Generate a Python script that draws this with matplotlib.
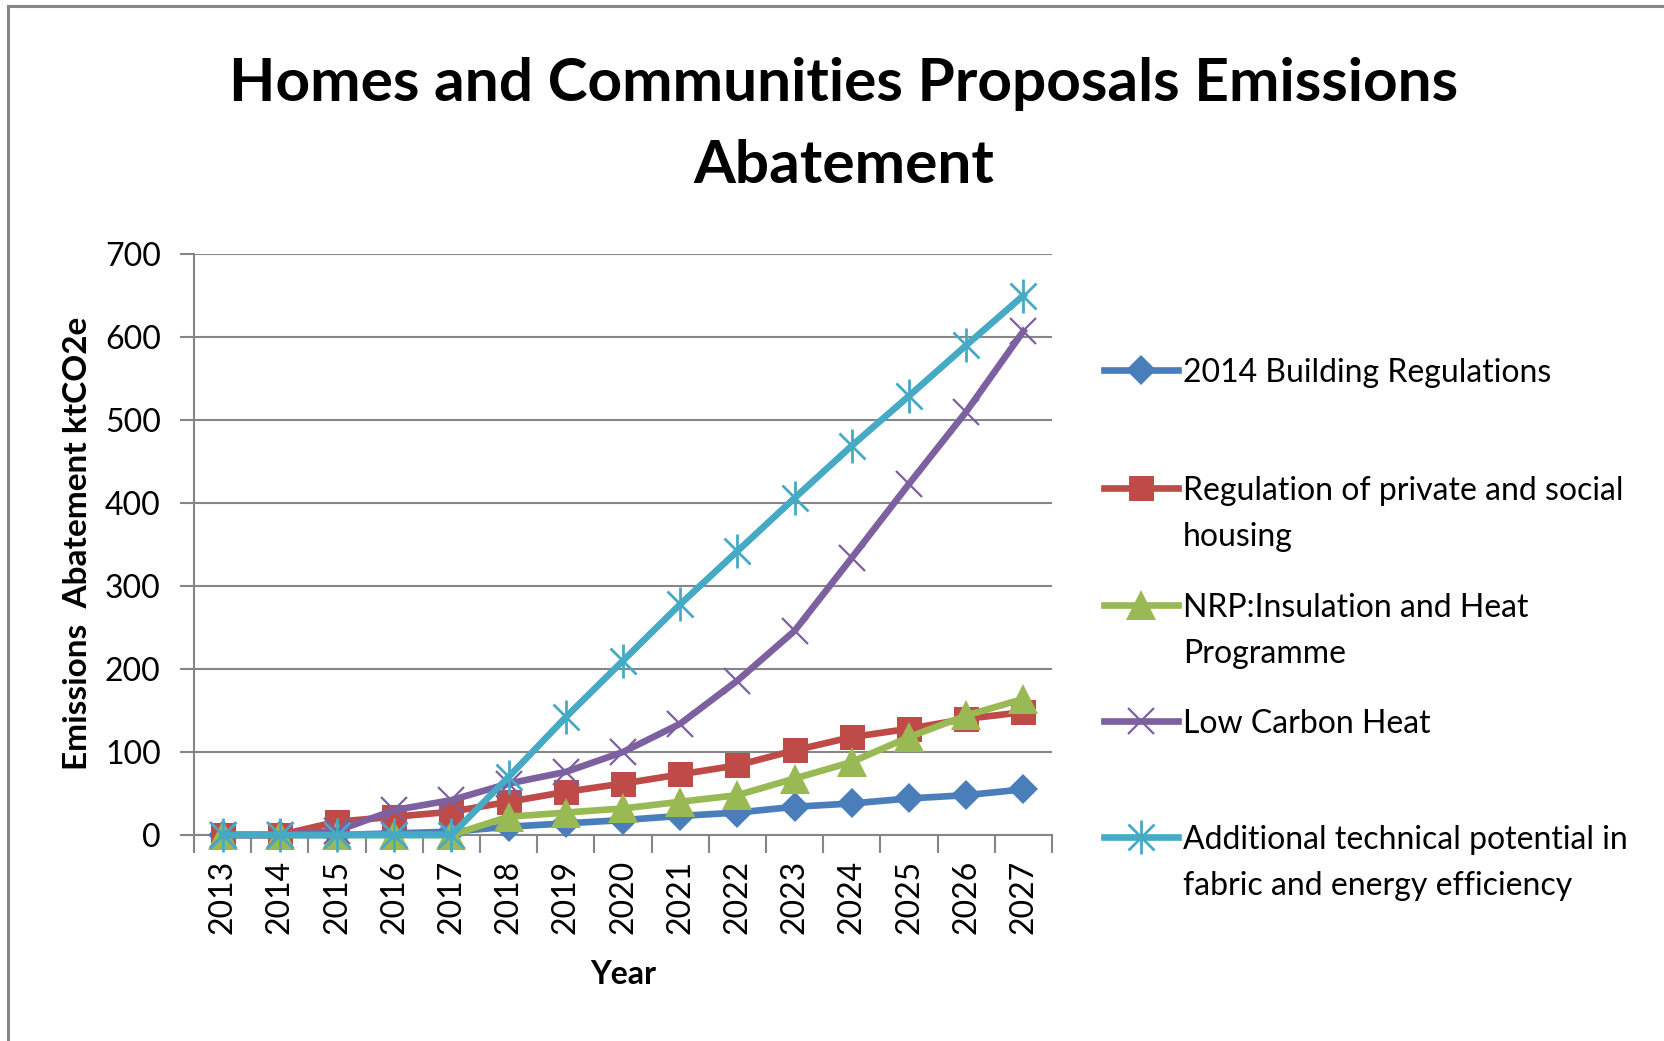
import matplotlib
matplotlib.use("Agg")
import matplotlib.pyplot as plt
from matplotlib.lines import Line2D
import numpy as np

plt.rcParams['font.family'] = ['Lato', 'DejaVu Sans']

years = ["2013", "2014", "2015", "2016", "2017", "2018", "2019", "2020",
         "2021", "2022", "2023", "2024", "2025", "2026", "2027"]

building_regs = [0, 0, 0, 2, 4, 10, 14, 18, 23, 27, 34, 38, 44, 48, 55]
private_social = [0, 0, 16, 22, 28, 40, 52, 62, 73, 84, 102, 118, 128, 140, 148]
nrp_insulation = [0, 0, 0, 0, 0, 22, 27, 32, 40, 48, 68, 88, 118, 144, 164]
low_carbon_heat = [0, 0, 5, 30, 42, 62, 76, 100, 134, 186, 246, 334, 423, 510, 607]
additional_tech = [0, 0, 0, 0, 0, 70, 142, 210, 278, 342, 406, 469, 529, 590, 650]

labels = ["2014 Building Regulations",
          "Regulation of private and social\nhousing",
          "NRP:Insulation and Heat\nProgramme",
          "Low Carbon Heat",
          "Additional technical potential in\nfabric and energy efficiency"]

colors = ["#4A7EBB", "#BE4B48", "#98B954", "#7D60A0", "#46AAC5"]
grid_col = "#868686"

W, H = 1664, 1041
fig = plt.figure(figsize=(W / 100, H / 100), dpi=100)
ax = fig.add_axes([194 / W, 1 - 835 / H, (1052 - 194) / W, (835 - 254) / H])

x = np.arange(len(years))
series = [building_regs, private_social, nrp_insulation, low_carbon_heat, additional_tech]

styles = [
    dict(marker="D", ms=15, mew=0),
    dict(marker="s", ms=18, mew=0),
    dict(marker="^", ms=21, mew=0),
    dict(marker="x", ms=19, mew=1.6),
    dict(marker="x", ms=19, mew=2),
]

for i, (vals, st) in enumerate(zip(series, styles)):
    ax.plot(x, vals, color=colors[i], lw=4.8, zorder=3 + i, clip_on=False, **st)
# star marker for the last series = x plus vertical bar
ax.plot(x, additional_tech, ls="none", marker="|", ms=24, mew=2, color=colors[4],
        zorder=8, clip_on=False)

ax.set_xlim(-0.5, len(years) - 0.5)
ax.set_ylim(0, 700)
ax.set_yticks(np.arange(0, 701, 100))
ax.yaxis.grid(True, color=grid_col, lw=1.5)
ax.set_axisbelow(True)

ax.set_xticks(x)
ax.set_xticklabels(years, rotation=90, fontsize=23)
ax.set_xticks(np.arange(-0.5, len(years)), minor=True)
ax.tick_params(axis="x", which="major", length=0, pad=18)
ax.tick_params(axis="x", which="minor", length=13, width=1.5, color=grid_col, direction="out")
ax.tick_params(axis="y", length=10, width=1.5, color=grid_col, labelsize=23, pad=14)

for s in ["top", "right"]:
    ax.spines[s].set_visible(False)
for s in ["left", "bottom"]:
    ax.spines[s].set_color(grid_col)
    ax.spines[s].set_linewidth(1.5)

fig.text(623 / W, 1 - 974 / H, "Year", fontsize=23, fontweight="bold", ha="center", va="center")
fig.text(78 / W, 1 - 543 / H, "Emissions  Abatement ktCO2e", fontsize=24, fontweight="bold",
         rotation=90, ha="center", va="center")

fig.text(844 / W, 1 - 125 / H, "Homes and Communities Proposals Emissions\nAbatement",
         fontsize=43.5, fontweight="bold", ha="center", va="center", linespacing=1.65)

# legend drawn by hand (Excel-like spacing)
leg_y = [370, 488, 605, 721, 837]
for i, lab in enumerate(labels):
    y = 1 - leg_y[i] / H
    st = dict(styles[i])
    h = Line2D([1104 / W, 1141 / W, 1178 / W], [y, y, y], transform=fig.transFigure,
               color=colors[i], lw=4.8, markevery=[1], **st)
    fig.add_artist(h)
    if i == 4:
        fig.add_artist(Line2D([1141 / W], [y], transform=fig.transFigure, ls="none",
                              marker="|", ms=24, mew=2, color=colors[4]))
    for j, line in enumerate(lab.split("\n")):
        fig.text(1183 / W, y - j * 46 / H, line, fontsize=23, ha="left", va="center_baseline")

# chart frame (top and left edges visible)
fig.add_artist(Line2D([8 / W, 8 / W], [0, 1 - 6 / H], transform=fig.transFigure, color=grid_col, lw=2.2))
fig.add_artist(Line2D([8 / W, 1], [1 - 6 / H, 1 - 6 / H], transform=fig.transFigure, color=grid_col, lw=2.2))

fig.savefig("out.png", dpi=100)
